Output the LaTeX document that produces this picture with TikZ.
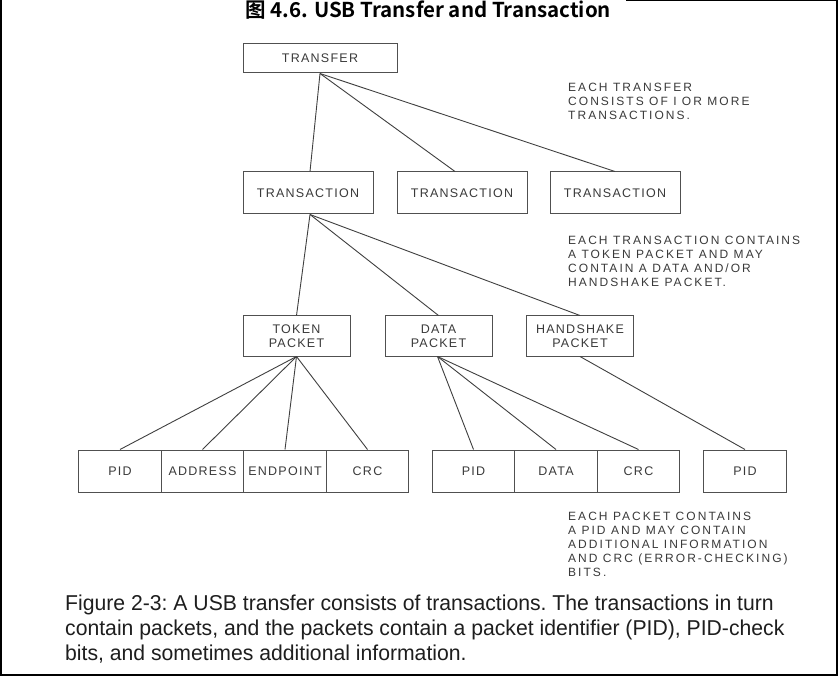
\documentclass[tikz,border=0pt]{standalone}
\usepackage{fontspec}
\setmainfont{Liberation Sans}
\newfontfamily\dgfont[LetterSpace=10]{Liberation Sans}
\newfontfamily\notefont[LetterSpace=17]{Liberation Sans}
\newfontfamily\capfont[FakeStretch=0.985]{Liberation Sans}
\newfontfamily\titlefont[BoldFont={Noto Sans CJK SC Bold}]{Noto Sans CJK SC}
\definecolor{boxgray}{HTML}{505050}
\definecolor{linegray}{HTML}{404040}
\definecolor{txtgray}{HTML}{3A3A3A}
\definecolor{captxt}{HTML}{1E1E1E}
\begin{document}
\begin{tikzpicture}[x=1pt,y=-1pt,
  box/.style={draw=boxgray, line width=1pt, rectangle, inner sep=0pt,
    font=\dgfont\fontsize{12.5}{14}\selectfont, text=txtgray, align=center},
  tbox/.style={box, minimum width=154pt, minimum height=29pt},
  abox/.style={box, minimum width=130pt, minimum height=42pt},
  pbox/.style={box, minimum width=107pt, minimum height=40pt},
  fbox/.style={box, minimum width=82.5pt, minimum height=42pt},
  link/.style={draw=linegray, line width=0.9pt},
  note/.style={anchor=north west, align=left, inner sep=0pt,
    font=\notefont\fontsize{12}{14}\selectfont, text=txtgray},
  frame/.style={draw=black, line width=2pt}]
\useasboundingbox (0,0) rectangle (838,676);
\fill[white] (0,0) rectangle (838,676);
% title
\node[anchor=base west, inner sep=0pt, font=\titlefont\bfseries\fontsize{20.5}{22}\selectfont] (title) at (245,17.5) {图 4.6. USB Transfer and Transaction};
% frame
\draw[frame] (1,0) -- (1,675);
\draw[frame] (836.5,0) -- (836.5,675);
\draw[frame] (0,674.5) -- (838,674.5);
\draw[frame] (626,0.5) -- (838,0.5);
% level 1
\node[tbox] (transfer) at (320,58.5) {TRANSFER};
% level 2
\node[abox] (ta1) at (308,193) {TRANSACTION};
\node[abox] (ta2) at (462,193) {TRANSACTION};
\node[abox] (ta3) at (615,193) {TRANSACTION};
% level 3
\node[pbox] (tok) at (296.5,336) {TOKEN\\PACKET};
\node[pbox] (dat) at (438.5,336) {DATA\\PACKET};
\node[pbox] (hs) at (580,336) {HANDSHAKE\\PACKET};
% level 4
\node[fbox] (pid1) at (120,471) {PID};
\node[fbox] (addr) at (202.5,471) {ADDRESS};
\node[fbox] (endp) at (285,471) {ENDPOINT};
\node[fbox] (crc1) at (367.5,471) {CRC};
\node[fbox] (pid2) at (473.5,471) {PID};
\node[fbox] (data) at (556,471) {DATA};
\node[fbox] (crc2) at (638.5,471) {CRC};
\node[fbox] (pid3) at (745,471) {PID};
% connectors
\draw[link] (transfer.south) -- ([xshift=2pt]ta1.north);
\draw[link] (transfer.south) -- ([xshift=-7pt]ta2.north);
\draw[link] (transfer.south) -- (ta3.north);
\draw[link] ([xshift=2pt]ta1.south) -- (tok.north);
\draw[link] ([xshift=2pt]ta1.south) -- (dat.north);
\draw[link] ([xshift=2pt]ta1.south) -- (hs.north);
\draw[link] (tok.south) -- (pid1.north);
\draw[link] (tok.south) -- (addr.north);
\draw[link] (tok.south) -- (endp.north);
\draw[link] (tok.south) -- (crc1.north);
\draw[link] ([xshift=-1pt]dat.south) -- (pid2.north);
\draw[link] ([xshift=-1pt]dat.south) -- (data.north);
\draw[link] ([xshift=-1pt]dat.south) -- (crc2.north);
\draw[link] (hs.south) -- (pid3.north);
% notes
\node[note] (n1) at (568,83) {EACH TRANSFER\\CONSISTS OF I OR MORE\\TRANSACTIONS.};
\node[note] (n2) at (568,236) {EACH TRANSACTION CONTAINS\\A TOKEN PACKET AND MAY\\CONTAIN A DATA AND/OR\\HANDSHAKE PACKET.};
\node[note] (n3) at (568,512) {EACH PACKET CONTAINS\\A PID AND MAY CONTAIN\\ADDITIONAL INFORMATION\\AND CRC (ERROR-CHECKING)\\BITS.};
% caption
\node[anchor=north west, align=left, inner sep=0pt, text=captxt,
  font=\capfont\fontsize{21.5}{25}\selectfont\frenchspacing] (cap) at (65,595)
  {Figure 2-3: A USB transfer consists of transactions. The transactions in turn\\contain packets, and the packets contain a packet identifier (PID), PID-check\\bits, and sometimes additional information.};
\end{tikzpicture}
\end{document}
